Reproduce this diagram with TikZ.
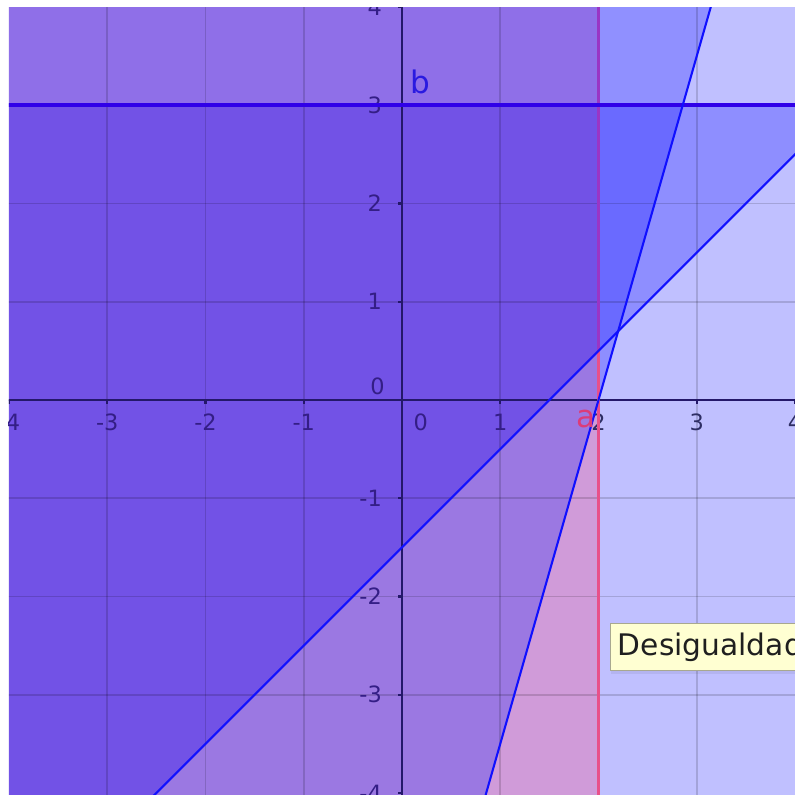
\documentclass[tikz,border=0pt]{standalone}
\usepackage{fontspec}
\setmainfont{DejaVu Sans}
\definecolor{cRa}{HTML}{8F6FE8}
\definecolor{cRb}{HTML}{7252E6}
\definecolor{cRc}{HTML}{9B78E2}
\definecolor{cRd}{HTML}{D09BD9}
\definecolor{cRe}{HTML}{9090FF}
\definecolor{cRf}{HTML}{C0C0FF}
\definecolor{cRg}{HTML}{6A6AFF}
\definecolor{cRh}{HTML}{8E8EFF}
\definecolor{axiscol}{HTML}{24186A}
\definecolor{labA}{HTML}{341E86}
\definecolor{labB}{HTML}{2E2E64}
\definecolor{pinklow}{HTML}{E8508A}
\definecolor{pinkhigh}{HTML}{9A35C5}
\definecolor{hcol}{HTML}{3000E8}
\definecolor{ineq}{HTML}{1010FF}
\definecolor{bcol}{HTML}{2A1AE0}
\definecolor{acol}{HTML}{DC3C78}
\definecolor{tipfill}{HTML}{FFFFD2}
\definecolor{tipborder}{HTML}{A8A890}
\begin{document}
\begin{tikzpicture}[x=1cm,y=1cm,
  gridline/.style={black,opacity=0.15,line width=0.45pt},
  axisline/.style={draw=axiscol,line width=0.6pt},
  ticklab/.style={font=\fontsize{6.5}{7}\selectfont,inner sep=0pt},
  ineqline/.style={draw=ineq,line width=0.6pt},
  namelab/.style={font=\fontsize{9}{10}\selectfont,inner sep=0pt},
  tipbox/.style={fill=tipfill,draw=tipborder,line width=0.3pt,font=\fontsize{8.6}{9}\selectfont,text=black!88,inner ysep=0pt,inner xsep=0.081cm,text height=9.2pt,text depth=4.3pt}
]
\useasboundingbox (-4.0916,-4.02) rectangle (4,4.0712);
\fill[white] (-4.0916,-4.02) rectangle (4,4.0712);
\begin{scope}
\clip (-4,-4.02) rectangle (4,4.0);
% regions
\fill[cRa] (-4.1,3) rectangle (2,4.1);
\fill[cRb] (-4.1,3) -- (2,3) -- (2,0.5) -- (-2.6,-4.1) -- (-4.1,-4.1) -- cycle;
\fill[cRc] (-2.6,-4.1) -- (2,0.5) -- (2,0) -- (0.8286,-4.1) -- cycle;
\fill[cRd] (0.8286,-4.1) -- (2,0) -- (2,-4.1) -- cycle;
\fill[cRe] (2,3) -- (2,4.1) -- (3.1714,4.1) -- (2.8571,3) -- cycle;
\fill[cRf] (2.8571,3) -- (3.1714,4.1) -- (4.1,4.1) -- (4.1,3) -- cycle;
\fill[cRg] (2,0.5) -- (2,3) -- (2.8571,3) -- (2.2,0.7) -- cycle;
\fill[cRh] (2,0) -- (2,0.5) -- (2.2,0.7) -- cycle;
\fill[cRh] (2.2,0.7) -- (2.8571,3) -- (4.1,3) -- (4.1,2.6) -- cycle;
\fill[cRf] (2,-4.1) -- (2,0) -- (2.2,0.7) -- (4.1,2.6) -- (4.1,-4.1) -- cycle;
% grid
\foreach \i in {-3,...,3} {
  \draw[gridline] (\i,-4.1) -- (\i,4.1);
  \draw[gridline] (-4.1,\i) -- (4.1,\i);
}
% axes
\coordinate (xL) at (-4.1,0);
\coordinate (xR) at (4.1,0);
\coordinate (yB) at (0,-4.1);
\coordinate (yT) at (0,4.1);
\draw[axisline] (xL) -- (xR);
\draw[axisline] (yB) -- (yT);
\foreach \i in {-4,...,4} {
  \draw[axisline] (\i,0) -- (\i,-0.04);
  \draw[axisline] (0,\i) -- (-0.04,\i);
}
% tick labels
\foreach \i/\t/\c [count=\k] in {-4/-4/labA,-3/-3/labA,-2/-2/labA,-1/-1/labA,1/1/labA,2/2/labB,3/3/labB,4/4/labB}
  \node[ticklab,text=\c] (xlab\k) at (\i,-0.229) {\t};
\node[ticklab,text=labA] (xlab0) at (0.19,-0.229) {0};
\foreach \i/\t [count=\k] in {4/4,3/3,2/2,1/1,-1/-1,-2/-2,-3/-3,-4/-4}
  \node[ticklab,text=labA,anchor=east] (ylab\k) at (-0.198,\i) {\t};
\node[ticklab,text=labA] (ylab0) at (-0.25,0.137) {0};
% boundary lines
\coordinate (A1) at (2,-4.1);
\coordinate (A2) at (2,0.5);
\coordinate (A3) at (2,4.1);
\draw[draw=pinklow,line width=1.15pt] (A1) -- (A2);
\draw[draw=pinkhigh,line width=1.15pt] (A2) -- (A3);
\coordinate (B1) at (-4.1,3);
\coordinate (B2) at (4.1,3);
\draw[draw=hcol,line width=1.2pt] (B1) -- (B2);
\coordinate (P1) at (-2.6,-4.1);
\coordinate (P2) at (4.1,2.6);
\draw[ineqline] (P1) -- (P2);
\coordinate (Q1) at (0.8286,-4.1);
\coordinate (Q2) at (3.1714,4.1);
\draw[ineqline] (Q1) -- (Q2);
% object labels
\node[namelab,text=bcol] (lb) at (0.19,3.24) {b};
\node[namelab,text=acol] (la) at (1.87,-0.19) {a};
% tooltip
\fill[black,opacity=0.06] (2.13,-2.30) rectangle (4.2,-2.79);
\node[tipbox,anchor=base west] (tip) at (2.112,-2.600) {Desigualdad};
\end{scope}
\end{tikzpicture}
\end{document}
